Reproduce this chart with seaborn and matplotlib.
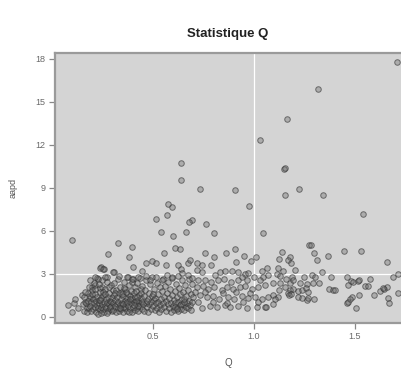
import matplotlib
matplotlib.use("Agg")
import matplotlib.pyplot as plt
import seaborn as sns
import pandas as pd

# ---- data ----
q_high = [1.710, 1.318, 1.165, 1.028, 1.149, 1.155, 1.224, 1.153, 1.342, 0.639, 0.637, 0.733, 0.907,
          0.576, 0.592, 0.571, 0.515, 0.691, 0.680, 0.762, 0.974, 0.538, 0.662, 0.804, 0.597, 1.043,
          0.609, 0.634, 0.556, 0.759, 0.863, 0.907, 0.952, 0.097, 0.328, 0.276, 0.241, 0.259, 0.308,
          0.381, 0.398, 0.464, 0.497, 0.515, 0.564, 0.625, 0.637, 0.672, 0.685, 0.401, 0.446, 0.800,
          0.909, 1.008, 0.985, 0.716, 0.744, 0.786, 1.274, 1.282, 1.137, 1.298, 1.178, 1.170, 1.183,
          1.313, 1.368, 1.125, 1.540, 1.446, 1.528, 1.660]
aapd_high = [17.76, 15.87, 13.77, 12.32, 10.29, 10.40, 8.91, 8.47, 8.47, 10.70, 9.56, 8.91, 8.84,
             7.86, 7.68, 7.10, 6.82, 6.75, 6.63, 6.47, 7.75, 5.91, 5.91, 5.82, 5.65, 5.82,
             4.82, 4.75, 4.42, 4.42, 4.42, 4.70, 4.24, 5.33, 5.12, 4.35, 3.45, 3.33, 3.12,
             4.19, 4.89, 3.73, 3.91, 3.73, 3.63, 3.59, 3.35, 3.73, 3.96, 3.49, 3.21, 4.15,
             3.82, 4.15, 3.87, 3.73, 3.61, 3.59, 4.98, 5.00, 4.49, 4.42, 4.14, 3.96, 3.77,
             3.96, 4.26, 4.00, 7.17, 4.56, 4.56, 3.82]

q_left = [0.081, 0.097, 0.109, 0.114, 0.147, 0.130, 0.163, 0.175, 0.188, 0.180,
          0.197, 0.213, 0.238, 0.221, 0.246, 0.271, 0.238, 0.254, 0.303,
          0.152, 0.158, 0.161, 0.166, 0.170, 0.172, 0.176, 0.181, 0.184, 0.186, 0.190, 0.193, 0.195,
          0.198, 0.201, 0.204, 0.206, 0.209, 0.211, 0.214, 0.216, 0.219, 0.221, 0.224, 0.226, 0.229,
          0.231, 0.234, 0.236, 0.238, 0.241, 0.243, 0.246, 0.248, 0.251, 0.253, 0.256, 0.258, 0.261,
          0.263, 0.266, 0.268, 0.271, 0.273, 0.276, 0.278, 0.281, 0.283, 0.286, 0.288, 0.291, 0.293,
          0.296, 0.298, 0.300, 0.187, 0.215, 0.262, 0.245, 0.228, 0.200, 0.255, 0.280, 0.232, 0.270,
          0.290, 0.212, 0.240, 0.264, 0.285]
aapd_left = [0.82, 0.35, 0.98, 1.21, 1.51, 0.59, 1.05, 0.59, 1.28, 1.63,
             2.09, 2.21, 1.98, 2.68, 2.56, 2.79, 3.38, 3.31, 3.14,
             0.85, 1.35, 0.42, 1.72, 0.95, 0.30, 1.12, 0.62, 2.05, 1.45, 0.78, 0.38, 1.02,
             1.88, 0.55, 1.25, 0.92, 2.35, 0.70, 1.55, 0.35, 1.08, 0.82, 1.38, 0.58, 2.62,
             1.18, 0.95, 0.45, 1.72, 0.68, 1.30, 2.10, 0.88, 0.52, 1.48, 1.05, 0.30, 0.75,
             1.92, 1.22, 0.62, 0.98, 2.45, 1.40, 0.42, 0.85, 1.65, 1.10, 0.55, 2.20, 0.78,
             1.32, 0.38, 1.85, 2.55, 2.80, 2.75, 0.25, 0.22, 1.60, 1.75, 2.05, 2.25, 0.28,
             1.02, 1.92, 1.15, 1.58, 0.70]

q_mid1 = [0.302, 0.304, 0.306, 0.308, 0.311, 0.313, 0.315, 0.318, 0.320, 0.322, 0.325, 0.327, 0.329,
          0.332, 0.334, 0.336, 0.339, 0.341, 0.343, 0.346, 0.348, 0.350, 0.353, 0.355, 0.357, 0.360,
          0.362, 0.364, 0.367, 0.369, 0.371, 0.374, 0.376, 0.378, 0.381, 0.383, 0.385, 0.388, 0.390,
          0.392, 0.395, 0.397, 0.399, 0.402, 0.404, 0.406, 0.409, 0.411, 0.413, 0.416, 0.418, 0.420,
          0.423, 0.425, 0.427, 0.430, 0.432, 0.434, 0.437, 0.439, 0.441, 0.444, 0.446, 0.448, 0.310,
          0.330, 0.345, 0.366, 0.380, 0.394, 0.415, 0.428, 0.440, 0.352, 0.372, 0.405, 0.338, 0.386,
          0.421, 0.359]
aapd_mid1 = [0.95, 0.45, 1.52, 2.35, 0.72, 1.18, 0.30, 1.85, 0.88, 1.38, 0.58, 2.62, 1.05,
             0.40, 1.62, 0.80, 2.10, 1.25, 0.52, 0.98, 1.75, 0.35, 1.42, 0.70, 2.45, 1.12,
             0.62, 1.95, 0.90, 1.30, 0.42, 1.58, 2.80, 0.78, 1.08, 2.22, 0.55, 1.45, 0.95,
             1.82, 0.32, 1.20, 2.60, 0.68, 1.65, 1.02, 0.48, 2.05, 1.35, 0.85, 1.78, 0.60,
             2.38, 1.15, 0.38, 1.50, 0.92, 2.72, 0.72, 1.28, 1.92, 0.52, 1.05, 2.15, 1.68,
             2.85, 1.55, 1.70, 0.30, 2.40, 1.10, 0.75, 1.62, 0.88, 1.00, 0.82, 0.62, 1.25,
             1.40, 2.00]

q_mid2 = [0.452, 0.455, 0.458, 0.461, 0.464, 0.467, 0.470, 0.473, 0.476, 0.479, 0.482, 0.485, 0.488,
          0.491, 0.494, 0.497, 0.500, 0.503, 0.506, 0.509, 0.512, 0.515, 0.518, 0.521, 0.524, 0.527,
          0.530, 0.533, 0.536, 0.539, 0.542, 0.545, 0.548, 0.551, 0.554, 0.557, 0.560, 0.563, 0.566,
          0.569, 0.572, 0.575, 0.578, 0.581, 0.584, 0.587, 0.590, 0.593, 0.596, 0.599, 0.602, 0.605,
          0.608, 0.611, 0.614, 0.617, 0.620, 0.623, 0.626, 0.629, 0.632, 0.635, 0.638, 0.641, 0.644,
          0.647, 0.650, 0.653, 0.656, 0.659, 0.662, 0.665, 0.668, 0.671, 0.674, 0.677, 0.680, 0.683,
          0.686, 0.689, 0.692, 0.695, 0.698, 0.610, 0.640, 0.655, 0.620, 0.470, 0.500,
          0.370, 0.394, 0.427, 0.464, 0.485, 0.513, 0.543, 0.568, 0.593, 0.622, 0.645, 0.672, 0.692]
aapd_mid2 = [0.85, 1.42, 0.40, 1.88, 0.98, 2.55, 0.65, 1.22, 0.32, 1.68, 0.88, 2.25, 1.05,
             0.52, 1.45, 2.80, 0.75, 1.15, 1.95, 0.45, 1.32, 0.92, 2.38, 0.62, 1.58, 1.02,
             0.35, 2.05, 0.82, 1.25, 0.55, 1.78, 2.62, 0.95, 1.40, 0.68, 2.15, 1.10, 0.38,
             1.62, 0.85, 2.45, 1.28, 0.58, 1.92, 0.98, 0.30, 1.48, 2.72, 0.75, 1.15, 0.48,
             1.82, 0.92, 2.28, 0.62, 1.35, 1.02, 0.40, 2.00, 0.80, 1.55, 0.55, 1.18, 2.55,
             0.88, 1.70, 0.45, 1.25, 2.18, 0.70, 1.45, 0.95, 1.88, 0.60, 2.65, 1.12, 0.82,
             1.58, 0.50, 2.30, 1.00, 1.38, 0.70, 0.85, 1.00, 0.55, 1.10, 1.60,
             2.79, 2.61, 2.75, 2.84, 2.56, 2.75, 2.56, 2.91, 2.75, 2.84, 3.07, 2.91, 2.68]

q_mid3 = [0.716, 0.744, 0.807, 0.832, 0.856, 0.893, 0.919, 0.955, 0.969, 1.038, 1.046,
          0.724, 0.757, 0.787, 0.823, 0.853, 0.886, 0.919, 0.939, 0.964, 1.001, 1.030,
          0.716, 0.749, 0.774, 0.803, 0.840, 0.865, 0.898, 0.931, 0.955, 0.989, 1.021,
          0.733, 0.766, 0.799, 0.827, 0.870, 0.902, 0.939, 0.972, 1.005, 1.038,
          0.741, 0.782, 0.815, 0.856, 0.881, 0.922, 0.964, 1.013, 1.054,
          0.724, 0.799, 0.865, 0.947, 1.021, 0.710, 0.760, 0.845, 0.910, 0.980]
aapd_mid3 = [3.26, 3.14, 2.91, 3.14, 3.21, 3.21, 3.14, 2.98, 3.03, 3.21, 2.79,
             2.56, 2.56, 2.44, 2.56, 2.61, 2.44, 2.56, 2.75, 2.56, 2.75, 2.56,
             2.05, 2.14, 1.91, 2.05, 1.86, 2.05, 1.91, 2.05, 2.14, 1.91, 2.05,
             1.51, 1.35, 1.44, 1.21, 1.40, 1.21, 1.44, 1.28, 1.40, 1.21,
             0.59, 0.75, 0.66, 0.82, 0.70, 0.75, 0.59, 0.70, 0.66,
             1.00, 1.02, 0.98, 1.00, 1.03, 1.70, 1.75, 1.65, 1.72, 1.68]

q_right = [1.063, 1.071, 1.112, 1.129, 1.120, 1.145, 1.203, 1.157, 1.187, 1.249, 1.286, 1.302,
           1.338, 1.380, 1.054, 1.096, 1.129, 1.178, 1.195, 1.228, 1.261, 1.293, 1.322, 1.371,
           1.393, 1.153, 1.178, 1.167, 1.173, 1.195, 1.216, 1.239, 1.256, 1.266, 1.124, 1.120,
           1.068, 1.096, 1.104, 1.219, 1.236, 1.261, 1.269, 1.298, 1.058, 1.096, 1.183,
           1.459, 1.480, 1.492, 1.517, 1.520, 1.464, 1.573, 1.550, 1.563, 1.401, 1.688, 1.711,
           1.624, 1.645, 1.657, 1.640, 1.596, 1.711, 1.487, 1.475, 1.520, 1.459, 1.467, 1.503,
           1.665, 1.668]
aapd_right = [3.38, 2.91, 2.98, 2.84, 3.38, 3.21, 3.26, 2.61, 2.75, 2.75, 2.91, 2.75,
              3.14, 2.79, 2.21, 2.33, 2.33, 2.37, 2.56, 2.33, 2.28, 2.37, 2.33, 1.91,
              1.86, 2.05, 1.86, 1.63, 1.54, 1.91, 1.81, 1.86, 1.98, 1.74, 1.86, 1.35,
              1.40, 1.51, 1.21, 1.35, 1.28, 1.16, 1.28, 1.26, 0.70, 0.89, 1.58,
              2.79, 2.51, 2.44, 2.51, 2.55, 2.23, 2.61, 2.14, 2.14, 1.86, 2.79, 2.98,
              1.77, 1.91, 2.05, 1.98, 1.51, 1.63, 1.40, 1.21, 1.49, 0.98, 1.05, 0.59,
              1.28, 0.93]

Q = q_high + q_left + q_mid1 + q_mid2 + q_mid3 + q_right
AAPD = aapd_high + aapd_left + aapd_mid1 + aapd_mid2 + aapd_mid3 + aapd_right
df = pd.DataFrame({"Q": Q, "aapd": AAPD})

x_ticks = [0.5, 1.0, 1.5]
x_tick_labels = ["0.5", "1.0", "1.5"]
y_ticks = [0, 3, 6, 9, 12, 15, 18]

# ---- drawing ----
sns.set_style("white")
plt.rcParams["font.family"] = ["Liberation Sans", "DejaVu Sans"]

fig = plt.figure(figsize=(4.01, 3.68), dpi=100)
ax = fig.add_axes([55 / 401, 1 - 322.7 / 368, 346 / 401, 270 / 368])
ax.set_facecolor("#d4d4d4")

ax.axvline(1.0, color="white", lw=0.9, zorder=1)
ax.axhline(3.0, color="white", lw=0.9, zorder=1)

sns.scatterplot(data=df, x="Q", y="aapd", ax=ax, s=16,
                facecolor=(0.42, 0.42, 0.42, 0.38),
                edgecolor=(0.2, 0.2, 0.2, 0.62), linewidth=0.7, zorder=3)

ax.set_xlim(0.015, 1.728)
ax.set_ylim(-0.42, 18.42)
ax.set_xticks(x_ticks)
ax.set_xticklabels(x_tick_labels)
ax.set_yticks(y_ticks)

for side, sp in ax.spines.items():
    sp.set_color("#9a9a9a")
    sp.set_linewidth(1.6)
ax.spines["right"].set_visible(False)

ax.tick_params(axis="both", which="both", direction="out", length=4, width=0.9,
               color="#888888", labelcolor="#6a6a6a", labelsize=6.5, pad=3,
               left=True, bottom=True)

ax.set_title("Statistique Q", fontsize=9.5, fontweight="bold", color="#222222", pad=11)
ax.set_xlabel("Q", fontsize=7, color="#555555", labelpad=12)
ax.set_ylabel("aapd", fontsize=6.5, color="#555555", labelpad=13)

fig.savefig("out.png", dpi=100)
